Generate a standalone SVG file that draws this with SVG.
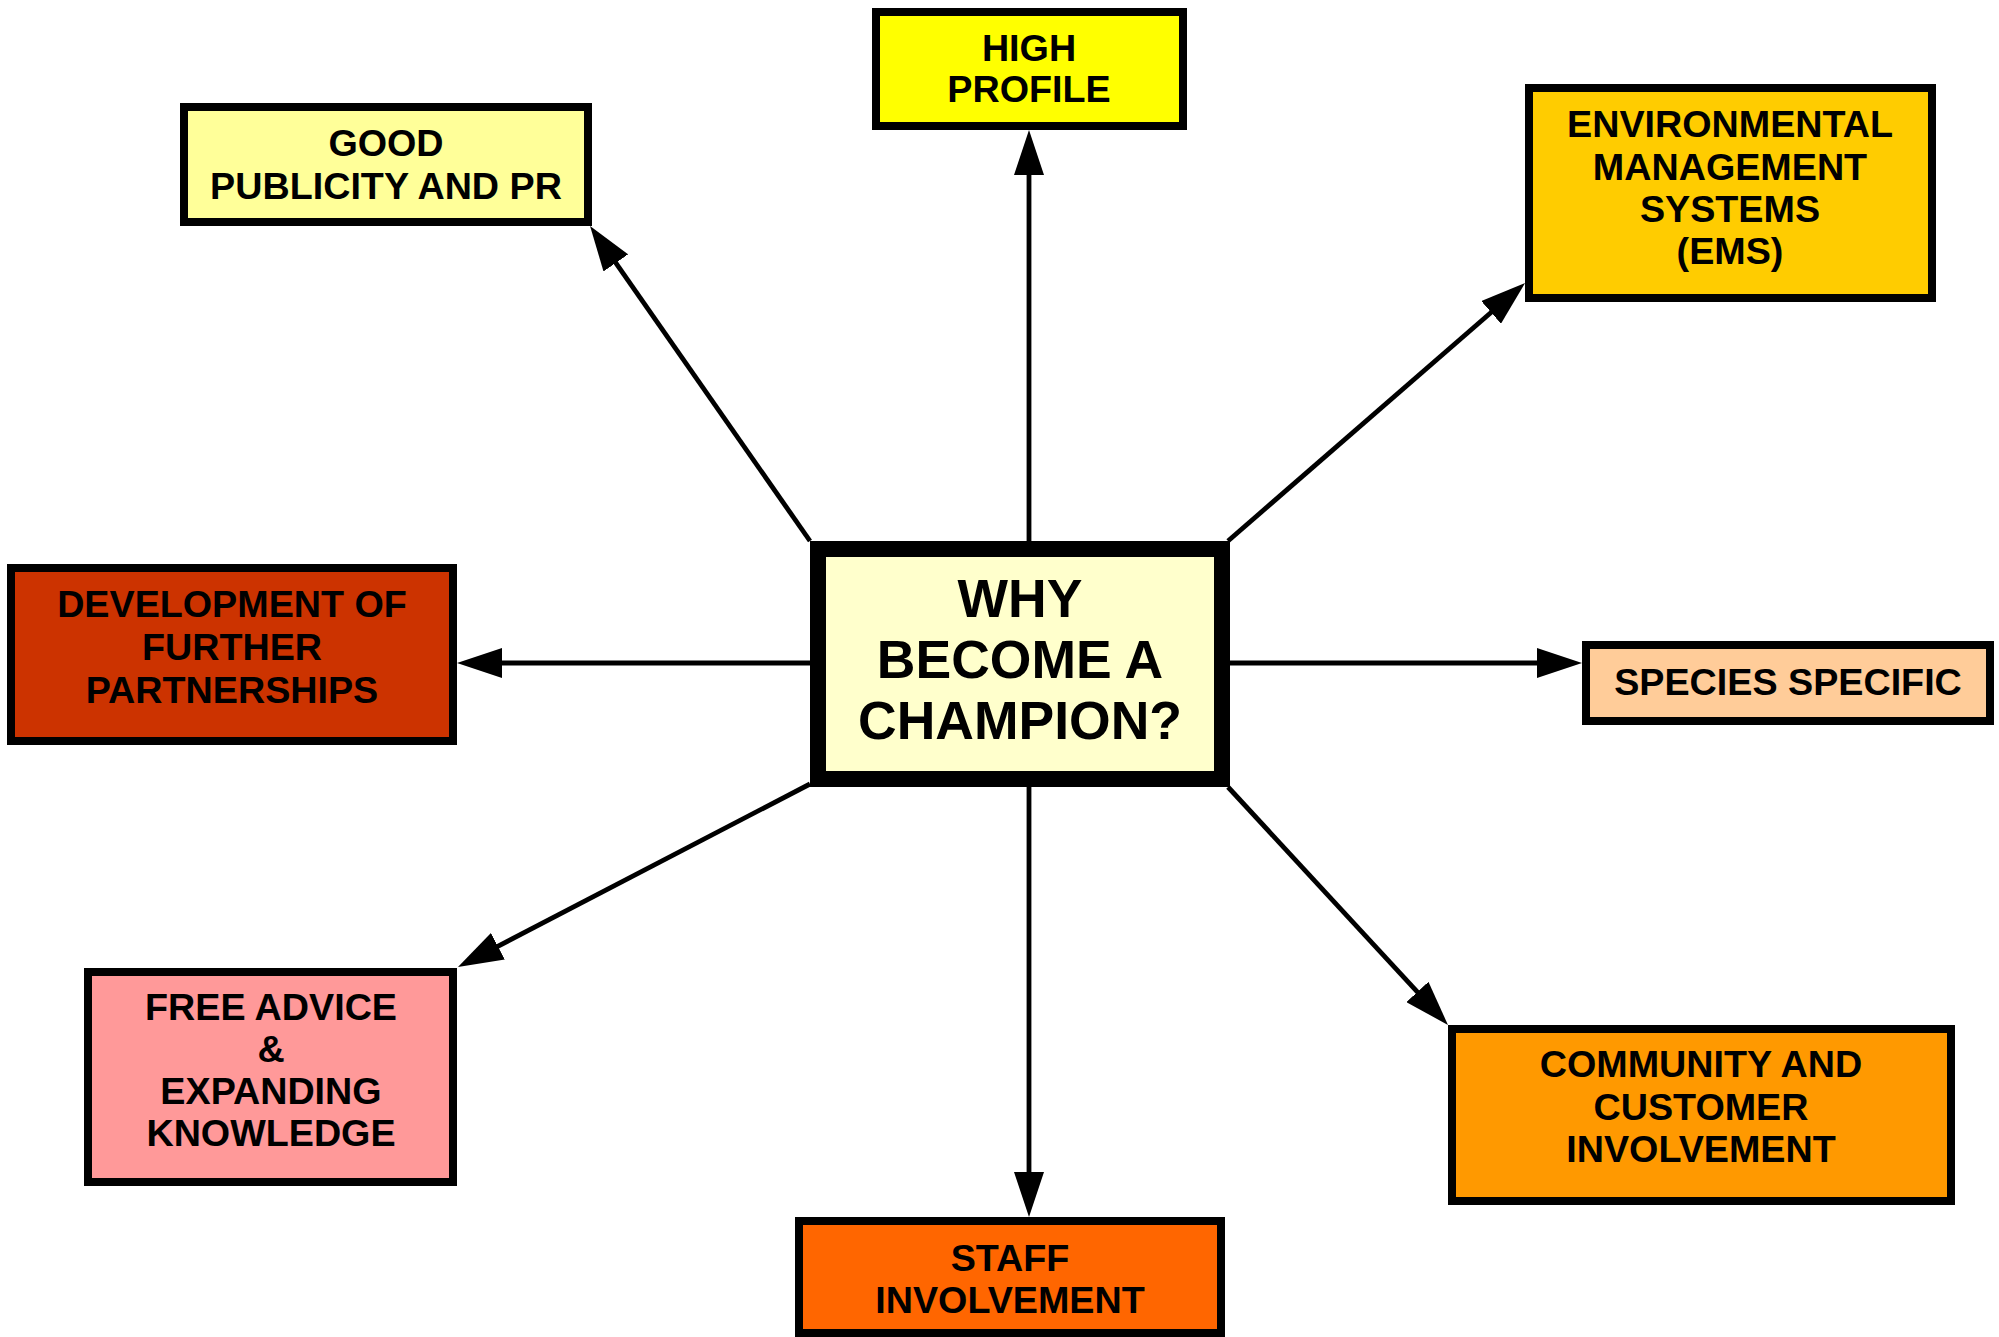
<svg xmlns="http://www.w3.org/2000/svg" width="1999" height="1337" viewBox="0 0 1999 1337">
<style>
.box{stroke:#000;stroke-width:8}
.center{stroke:#000;stroke-width:16}
text{font-family:"Liberation Sans",Arial,sans-serif;font-weight:bold;fill:#000;text-anchor:middle}
.t{font-size:37.7px}
.tc{font-size:53.5px}
.conn line{stroke:#000;stroke-width:4.8;marker-end:url(#arrow)}
</style>
<defs>
<marker id="arrow" markerUnits="userSpaceOnUse" viewBox="0 0 45 30" refX="25" refY="15" markerWidth="45" markerHeight="30" orient="auto">
<path d="M0,0 L45,15 L0,30 Z" fill="#000"/>
</marker>
</defs>
<rect width="1999" height="1337" fill="#fff"/>
<g id="connectors" class="conn">
<line x1="1029" y1="541" x2="1029" y2="150"/>
<line x1="810" y1="663" x2="477" y2="663"/>
<line x1="1230" y1="663" x2="1562" y2="663"/>
<line x1="1029" y1="787" x2="1029" y2="1197"/>
<line x1="810" y1="541" x2="601.5" y2="242.4"/>
<line x1="1228" y1="541" x2="1510" y2="296"/>
<line x1="810" y1="784" x2="475.7" y2="957.8"/>
<line x1="1228" y1="787" x2="1434.4" y2="1010.3"/>
</g>
<g id="center">
<rect class="center" x="818" y="549" width="404" height="230" fill="#FFFFCC"/>
<text class="tc" x="1020" y="617">WHY</text>
<text class="tc" x="1020" y="678">BECOME A</text>
<text class="tc" x="1020" y="739">CHAMPION?</text>
</g>
<g id="high-profile">
<rect class="box" x="876" y="12" width="307" height="114" fill="#FFFF00"/>
<text class="t" x="1029" y="61">HIGH</text>
<text class="t" x="1029" y="102">PROFILE</text>
</g>
<g id="good-publicity">
<rect class="box" x="184" y="107" width="404" height="115" fill="#FFFF99"/>
<text class="t" x="386" y="156">GOOD</text>
<text class="t" x="386" y="199">PUBLICITY AND PR</text>
</g>
<g id="ems">
<rect class="box" x="1529" y="88" width="403" height="210" fill="#FFCC00"/>
<text class="t" x="1730" y="137">ENVIRONMENTAL</text>
<text class="t" x="1730" y="180">MANAGEMENT</text>
<text class="t" x="1730" y="222">SYSTEMS</text>
<text class="t" x="1730" y="264">(EMS)</text>
</g>
<g id="development">
<rect class="box" x="11" y="568" width="442" height="173" fill="#CC3300"/>
<text class="t" x="232" y="617">DEVELOPMENT OF</text>
<text class="t" x="232" y="660">FURTHER</text>
<text class="t" x="232" y="703">PARTNERSHIPS</text>
</g>
<g id="species">
<rect class="box" x="1586" y="645" width="404" height="76" fill="#FFCC99"/>
<text class="t" x="1788" y="695">SPECIES SPECIFIC</text>
</g>
<g id="free-advice">
<rect class="box" x="88" y="972" width="365" height="210" fill="#FF9999"/>
<text class="t" x="271" y="1020">FREE ADVICE</text>
<text class="t" x="271" y="1062">&amp;</text>
<text class="t" x="271" y="1104">EXPANDING</text>
<text class="t" x="271" y="1146">KNOWLEDGE</text>
</g>
<g id="staff">
<rect class="box" x="799" y="1221" width="422" height="112" fill="#FF6600"/>
<text class="t" x="1010" y="1271">STAFF</text>
<text class="t" x="1010" y="1313">INVOLVEMENT</text>
</g>
<g id="community">
<rect class="box" x="1452" y="1029" width="499" height="172" fill="#FF9900"/>
<text class="t" x="1701" y="1077">COMMUNITY AND</text>
<text class="t" x="1701" y="1120">CUSTOMER</text>
<text class="t" x="1701" y="1162">INVOLVEMENT</text>
</g>
</svg>
